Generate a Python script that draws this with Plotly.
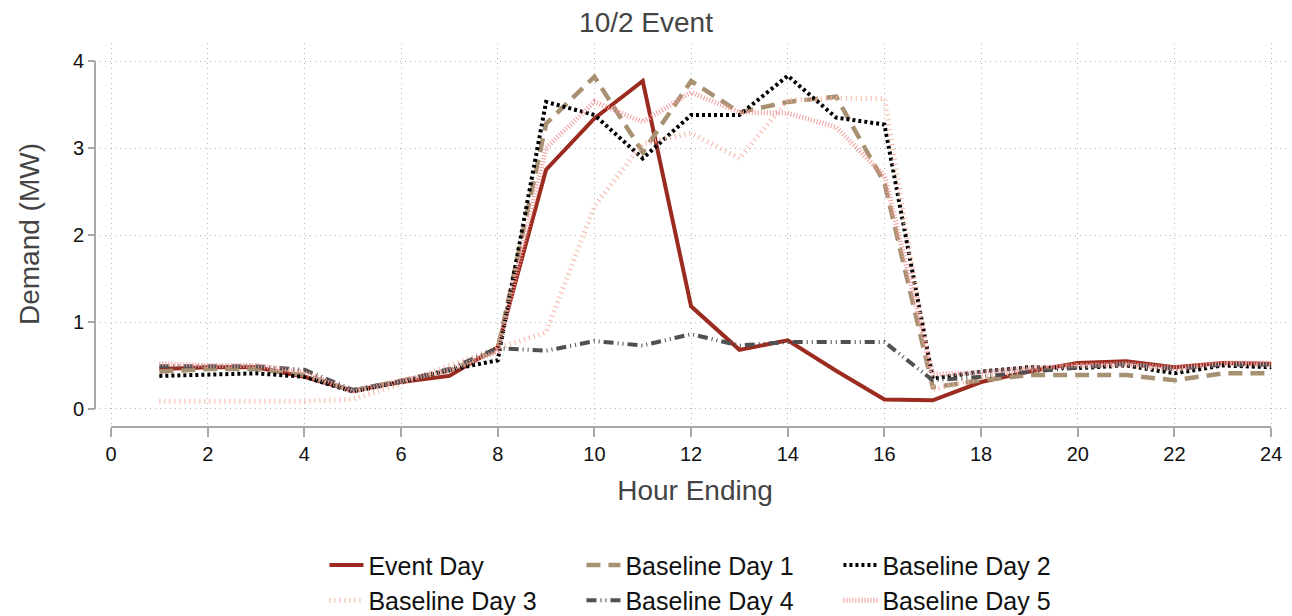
import plotly.graph_objects as go

# Hourly demand (MW) for the event day and five baseline days
hours = list(range(1, 25))
event_day = [0.46, 0.48, 0.48, 0.37, 0.21, 0.31, 0.38, 0.71, 2.75, 3.34, 3.77, 1.18,
             0.68, 0.79, 0.44, 0.11, 0.10, 0.31, 0.43, 0.53, 0.55, 0.48, 0.53, 0.52]
baseline_1 = [0.43, 0.46, 0.46, 0.39, 0.21, 0.32, 0.44, 0.68, 3.28, 3.82, 2.95, 3.77,
              3.41, 3.53, 3.59, 2.60, 0.25, 0.33, 0.39, 0.39, 0.39, 0.33, 0.41, 0.41]
baseline_2 = [0.38, 0.40, 0.41, 0.37, 0.20, 0.31, 0.45, 0.56, 3.53, 3.38, 2.88, 3.38,
              3.38, 3.83, 3.35, 3.27, 0.35, 0.43, 0.48, 0.47, 0.50, 0.41, 0.50, 0.48]
baseline_3 = [0.09, 0.09, 0.09, 0.09, 0.11, 0.29, 0.50, 0.70, 0.88, 2.33, 3.05, 3.17,
              2.88, 3.55, 3.57, 3.57, 0.22, 0.36, 0.45, 0.50, 0.50, 0.45, 0.52, 0.50]
baseline_4 = [0.49, 0.49, 0.49, 0.45, 0.22, 0.32, 0.46, 0.70, 0.67, 0.78, 0.73, 0.86,
              0.73, 0.77, 0.77, 0.77, 0.33, 0.37, 0.43, 0.48, 0.52, 0.46, 0.51, 0.51]
baseline_5 = [0.52, 0.50, 0.50, 0.42, 0.20, 0.33, 0.45, 0.66, 3.00, 3.53, 3.30, 3.64,
              3.41, 3.40, 3.24, 2.68, 0.40, 0.42, 0.47, 0.50, 0.52, 0.47, 0.53, 0.53]

x_ticks = list(range(0, 25, 2))
y_ticks = [0, 1, 2, 3, 4]

series = [
    ("Event Day", event_day, "#9b2a1f", 4, "solid", "legend"),
    ("Baseline Day 1", baseline_1, "#a89172", 4.5, "14px,8px", "legend"),
    ("Baseline Day 2", baseline_2, "#000000", 4, "3px,3px", "legend"),
    ("Baseline Day 3", baseline_3, "#f7b4a2", 5, "1px,4px", "legend2"),
    ("Baseline Day 4", baseline_4, "#505050", 4, "10px,4px,1px,4px,1px,4px", "legend2"),
    ("Baseline Day 5", baseline_5, "#f29a9a", 5, "1px,2px", "legend2"),
]

fig = go.Figure()
for name, vals, color, width, dash, leg in series:
    fig.add_trace(go.Scatter(
        x=hours, y=vals, name=name, mode="lines",
        line=dict(color=color, width=width, dash=dash),
        legend=leg,
    ))

font_family = "Liberation Sans, Arial, sans-serif"
axis_grey = "#a8a8a8"
grid_grey = "#b4b4b4"
title_grey = "#444444"

legend_common = dict(
    orientation="h", x=0.192, xanchor="left", yanchor="middle",
    entrywidth=208, entrywidthmode="pixels", itemwidth=34,
    font=dict(size=25, color="#111111"), bgcolor="rgba(0,0,0,0)",
)

fig.update_layout(
    width=1292, height=616,
    margin=dict(l=95, r=2, t=43, b=189, autoexpand=False),
    plot_bgcolor="white", paper_bgcolor="white",
    font=dict(family=font_family, color="#111111", size=20),
    title=dict(text="10/2 Event", x=0.5, xanchor="center", y=0.964, yanchor="middle",
               font=dict(size=28, color=title_grey)),
    xaxis=dict(
        domain=[5 / 1195, 1], range=[-0.228, 24.39],
        tickvals=x_ticks, ticks="outside", ticklen=9, tickwidth=2, tickcolor=axis_grey,
        showline=False, zeroline=False,
        showgrid=True, gridcolor=grid_grey, griddash="1px,4px", gridwidth=1,
        anchor="free", position=0,
        title=dict(text="Hour Ending", font=dict(size=28, color=title_grey), standoff=16),
        tickfont=dict(size=20, color="#111111"),
    ),
    yaxis=dict(
        domain=[2 / 384, 1], range=[-0.184, 4.207],
        tickvals=y_ticks, ticks="outside", ticklen=7, tickwidth=2, tickcolor=axis_grey,
        showline=False, zeroline=False,
        showgrid=True, gridcolor=grid_grey, griddash="1px,4px", gridwidth=1,
        anchor="free", position=0,
        title=dict(text="Demand (MW)", font=dict(size=28, color=title_grey), standoff=24),
        tickfont=dict(size=20, color="#111111"),
    ),
    legend=dict(y=-0.36, **legend_common),
    legend2=dict(y=-0.452, **legend_common),
    shapes=[
        # axis lines spanning only the labelled ranges
        dict(type="line", xref="paper", yref="y", x0=0, x1=0, y0=0, y1=4,
             line=dict(color=axis_grey, width=2)),
        dict(type="line", xref="x", yref="paper", x0=0, x1=24, y0=0, y1=0,
             line=dict(color=axis_grey, width=2)),
    ],
)

fig.write_html("out.html")
